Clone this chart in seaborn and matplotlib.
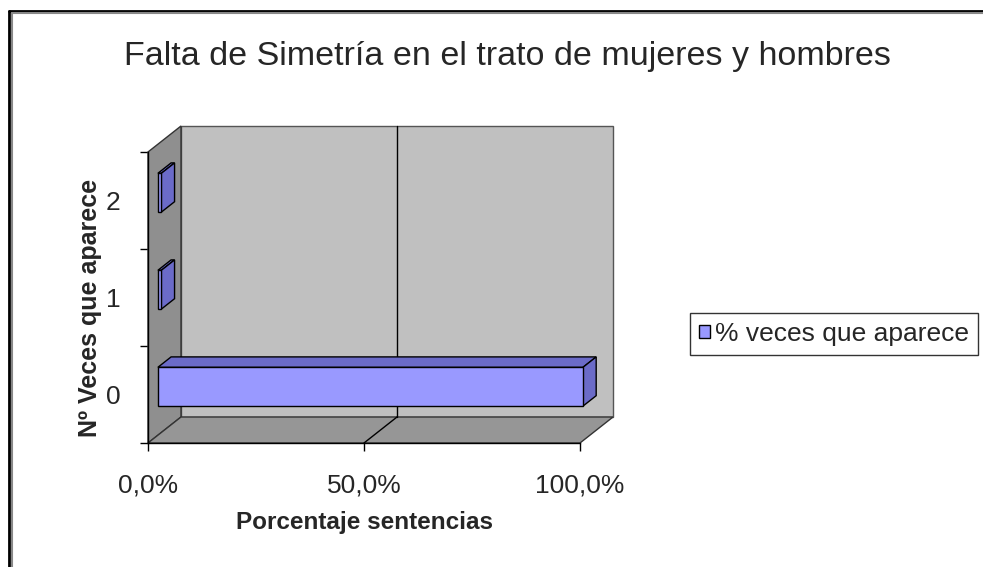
import numpy as np
import pandas as pd
import matplotlib
matplotlib.use('Agg')
import matplotlib.pyplot as plt
import seaborn as sns
from matplotlib.patches import Polygon
from matplotlib.lines import Line2D
from matplotlib.transforms import IdentityTransform, ScaledTranslation
from matplotlib.ticker import FixedLocator

# datos
categorias = ['0', '1', '2']
porcentajes = [0.984, 0.008, 0.008]
serie = '% veces que aparece'
ticks_x = [0.0, 0.5, 1.0]
etiquetas_x = ['0,0%', '50,0%', '100,0%']
titulo = 'Falta de Simetría en el trato de mujeres y hombres'
etiqueta_x = 'Porcentaje sentencias'
etiqueta_y = 'Nº Veces que aparece'

sns.set_style('white')
plt.rcParams['font.family'] = ['Liberation Sans', 'DejaVu Sans']

W, H = 983, 567
fig = plt.figure(figsize=(W / 100, H / 100), dpi=100)
# plano frontal del grafico 3D (pixeles)
ax = fig.add_axes([148 / W, (H - 443) / H, 432 / W, (443 - 152) / H])
ax.patch.set_visible(False)

df = pd.DataFrame({'categoria': categorias, 'porcentaje': porcentajes})
sns.barplot(data=df, x='porcentaje', y='categoria', order=categorias, orient='h',
            width=0.4, color='#9999FF', saturation=1, edgecolor='black',
            linewidth=1, ax=ax)
bars = list(ax.containers[0])

ax.set_xlim(0, 1)
ax.set_ylim(-0.5, 2.5)

# profundidad del efecto 3D en pixeles
DX, DY = 33, 26


def px(x, y, d):
    X, Y = ax.transData.transform((x, y))
    return (X + d * DX, Y + d * DY)


def cara(pts, fc, ec='black', z=1, lw=1):
    p = Polygon(pts, closed=True, transform=IdentityTransform(), facecolor=fc,
                edgecolor=ec, linewidth=lw, zorder=z, clip_on=False)
    ax.add_patch(p)


y0, y1 = -0.5, 2.5
# paredes y suelo
cara([px(0, y0, 1), px(1, y0, 1), px(1, y1, 1), px(0, y1, 1)], '#C0C0C0', ec='#555555', z=0.5)
cara([px(0, y0, 0), px(0, y0, 1), px(0, y1, 1), px(0, y1, 0)], '#8F8F8F', ec='#333333', z=0.6)
cara([px(0, y0, 0), px(1, y0, 0), px(1, y0, 1), px(0, y0, 1)], '#969696', ec='#333333', z=0.6)

# linea de division en 50%
for xv in ticks_x[1:-1]:
    a, b = px(xv, y0, 1), px(xv, y1, 1)
    ax.add_line(Line2D([a[0], b[0]], [a[1], b[1]], transform=IdentityTransform(),
                       color='black', lw=1, zorder=0.7, clip_on=False))
    a, b = px(xv, y0, 0), px(xv, y0, 1)
    ax.add_line(Line2D([a[0], b[0]], [a[1], b[1]], transform=IdentityTransform(),
                       color='black', lw=1, zorder=0.7, clip_on=False))

# barras con caras superior y lateral
desp = ScaledTranslation(0.3 * DX / 100, 0.3 * DY / 100, fig.dpi_scale_trans)
for bar in bars:
    bar.set_transform(ax.transData + desp)
    bar.set_zorder(3)
    bar.set_clip_on(False)
    bx0, by0 = bar.get_x(), bar.get_y()
    bx1, by1 = bx0 + bar.get_width(), by0 + bar.get_height()
    cara([px(bx0, by1, 0.3), px(bx1, by1, 0.3), px(bx1, by1, 0.7), px(bx0, by1, 0.7)],
         '#6B6BC8', z=2.8)
    cara([px(bx1, by0, 0.3), px(bx1, by1, 0.3), px(bx1, by1, 0.7), px(bx1, by0, 0.7)],
         '#6B6BC8', z=2.8)

# ejes
for s in ['top', 'right']:
    ax.spines[s].set_visible(False)
for s in ['left', 'bottom']:
    ax.spines[s].set_color('black')
    ax.spines[s].set_linewidth(1)
    ax.spines[s].set_zorder(1)

ax.set_xticks(ticks_x, etiquetas_x)
ax.tick_params(axis='x', length=6, width=1, color='black', direction='out',
               pad=16, labelsize=19, bottom=True)
ax.set_yticks(range(len(categorias)), categorias)
ax.tick_params(axis='y', which='major', length=0, pad=20, labelsize=19, left=True)
ax.yaxis.set_minor_locator(FixedLocator([-0.5, 0.5, 1.5, 2.5]))
ax.tick_params(axis='y', which='minor', length=6, width=1, color='black', left=True)

ax.set_xlabel(etiqueta_x, fontsize=17.5, fontweight='bold')
ax.xaxis.set_label_coords(0.5, (443 - 523) / 291)
ax.xaxis.label.set_va('center')
ax.set_ylabel(etiqueta_y, fontsize=18, fontweight='bold')
ax.yaxis.set_label_coords((90 - 148) / 432, (443 - 308) / 291)
ax.yaxis.label.set_va('center')

leg = ax.legend([bars[0]], [serie], loc='center left',
                bbox_to_anchor=(690 / W, 1 - 334 / H), bbox_transform=fig.transFigure,
                frameon=True, fancybox=False, edgecolor='black', fontsize=19,
                handlelength=0.4, handleheight=0.4, handletextpad=0.2,
                borderpad=0.35, borderaxespad=0)
leg.get_frame().set_linewidth(1)

fig.text(507 / W, 1 - 56 / H, titulo, ha='center', va='center', fontsize=24.5)

# marco exterior
fig.add_artist(Line2D([9 / W, 9 / W], [0, 1 - 11 / H], transform=fig.transFigure, color='black', lw=2))
fig.add_artist(Line2D([9 / W, 1], [1 - 11 / H, 1 - 11 / H], transform=fig.transFigure, color='black', lw=2))
fig.add_artist(Line2D([12 / W, 12 / W], [0, 1 - 13 / H], transform=fig.transFigure, color='#888888', lw=1.5))
fig.add_artist(Line2D([12 / W, 1], [1 - 13 / H, 1 - 13 / H], transform=fig.transFigure, color='#888888', lw=1.5))

fig.savefig('out.png', dpi=100)
